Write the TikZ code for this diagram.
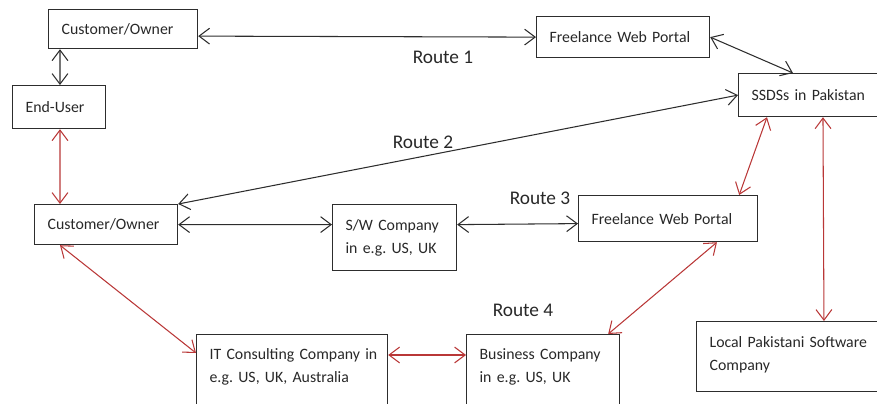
\documentclass[tikz,border=0pt]{standalone}
\usepackage{fontspec}
\setmainfont{Carlito}
\usepackage{xcolor}
\usetikzlibrary{positioning,arrows.meta,calc}

\definecolor{linegray}{RGB}{45,45,45}
\definecolor{routered}{RGB}{185,55,55}
\definecolor{textgray}{RGB}{40,40,40}

\tikzset{
	box/.style={draw=linegray, line width=0.7pt, rectangle, anchor=north west, align=left,
		inner xsep=0.26cm, inner ysep=2pt, text=textgray, font=\fontsize{9}{13}\selectfont\frenchspacing},
	link/.style={draw=linegray, line width=0.6pt, <->},
	redlink/.style={draw=routered, line width=0.6pt, <->},
	route/.style={text=textgray, font=\fontsize{11}{13}\selectfont}
}

\begin{document}
\begin{tikzpicture}[x=0.02cm,y=-0.02cm,>={Straight Barb[length=6pt,width=9pt]}]
		
		\useasboundingbox (0,0) rectangle (877,403);
		
		% boxes
		\node[box, text width=2.46cm, minimum height=0.78cm] (cust1) at (48,9) {Customer/Owner};
		\node[box, text width=1.34cm, minimum height=0.86cm] (enduser) at (12,85) {End-User};
		\node[box, text width=2.94cm, minimum height=0.82cm] (fwp1) at (536,16) {Freelance Web Portal};
		\node[box, text width=2.48cm, minimum height=0.86cm] (ssds) at (738,73) {SSDSs in Pakistan};
		\node[box, text width=2.34cm, minimum height=0.80cm] (cust2) at (34,204) {Customer/Owner};
		\node[box, text width=1.96cm, minimum height=1.32cm] (swco) at (332,204) {S/W Company\\in e.g. US, UK};
		\node[box, text width=3.06cm, minimum height=0.92cm] (fwp2) at (578,195) {Freelance Web Portal};
		\node[box, text width=3.30cm, minimum height=1.48cm] (itco) at (196,334) {\mbox{IT Consulting Company in}\\e.g. US, UK, Australia\\[-6pt]\mbox{}};
		\node[box, text width=2.54cm, minimum height=1.48cm] (busco) at (466,334) {Business Company\\in e.g. US, UK\\[-6pt]\mbox{}};
		\node[box, text width=3.28cm, minimum height=1.40cm] (local) at (696,321) {Local Pakistani Software\\Company\\[-9pt]\mbox{}};
		
		% route labels
		\node[route] (r1) at (443,57) {Route 1};
		\node[route] (r2) at (423,142) {Route 2};
		\node[route] (r3) at (540,198) {Route 3};
		\node[route] (r4) at (523,310) {Route 4};
		
		% black connectors
		\draw[link] ([xshift=0.24cm]cust1.south west) -- ([xshift=0.96cm]enduser.north west);
		\draw[link] ([yshift=-0.14cm]cust1.east) -- (fwp1.west);
		\draw[link] (fwp1.east) -- ([xshift=1.1cm]ssds.north west);
		\draw[link] (ssds.west) -- (cust2.north east);
		\draw[link] (cust2.east) -- ([yshift=0.26cm]swco.west);
		\draw[link] ([yshift=0.26cm]swco.east) -- ([yshift=-0.1cm]fwp2.west);
		
		% red connectors
		\draw[redlink] ([xshift=0.96cm]enduser.south west) -- ([xshift=0.52cm]cust2.north west);
		\draw[redlink] ([xshift=0.58cm]ssds.south west) -- ([xshift=-0.38cm]fwp2.north east);
		\draw[redlink] ([xshift=1.7cm]ssds.south west) -- ([xshift=2.56cm]local.north west);
		\draw[redlink] ([xshift=0.52cm]cust2.south west) -- ([yshift=-0.38cm]itco.north west);
		\draw[redlink] ([yshift=-0.42cm]itco.north east) -- ([yshift=-0.42cm]busco.north west);
		\draw[redlink] ([xshift=-0.24cm]busco.north east) -- ([xshift=2.78cm]fwp2.south west);
		
	\end{tikzpicture}
\end{document}
